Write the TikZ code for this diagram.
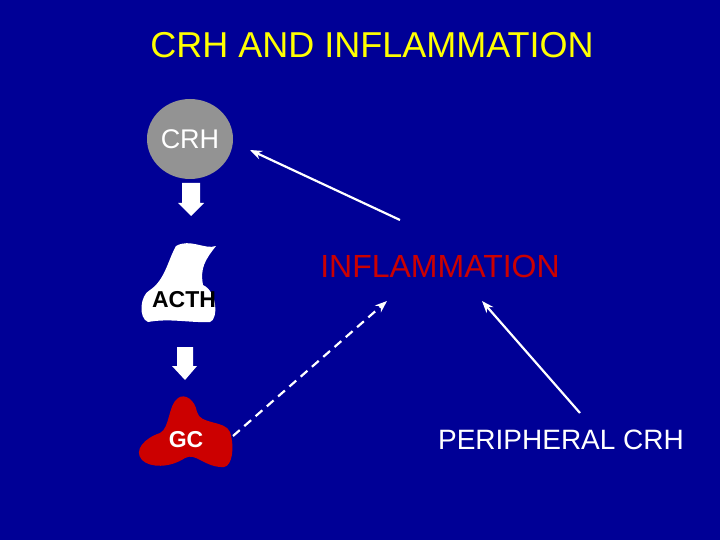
\documentclass[tikz,border=0pt]{standalone}
\usepackage{fontspec}
\setmainfont{Liberation Sans}
\usetikzlibrary{arrows.meta,shapes.geometric}
\definecolor{bg}{RGB}{0,0,150}
\definecolor{gc}{RGB}{204,0,0}
\definecolor{ttl}{RGB}{255,255,0}
\tikzset{conn/.style={white,line width=2.2pt,-{Stealth[length=12pt,width=9pt]}},
blk/.style={white,fill=white}}
\begin{document}
\begin{tikzpicture}[x=1pt,y=-1pt]
\fill[bg] (0,0) rectangle (720,540);
\useasboundingbox (0,0) rectangle (720,540);
\node[text=ttl,font=\fontsize{36}{40}\selectfont] (title) at (372,45) {CRH AND INFLAMMATION};
\node[ellipse,fill=gray!85,minimum width=86pt,minimum height=80pt,inner sep=0pt,text=white,font=\fontsize{27}{30}\selectfont] (crh) at (190,139) {CRH};
\fill[blk] (182,183) -- (200,183) -- (200,203) -- (204,203) -- (191,216) -- (178,203) -- (182,203) -- cycle;
\fill[blk] (176,246) .. controls (190,238) and (205,250) .. (216,246) .. controls (205,260) and (200,268) .. (203,285) .. controls (218,292) and (218,320) .. (210,322) .. controls (190,323) and (170,318) .. (148,322) .. controls (138,318) and (140,295) .. (150,290) .. controls (165,280) and (168,260) .. (176,246) -- cycle;
\node[font=\fontsize{23}{26}\selectfont\bfseries,text=black] (acth) at (184,300) {ACTH};
\fill[blk] (177,347) -- (193,347) -- (193,366) -- (197,366) -- (185,380) -- (172,366) -- (177,366) -- cycle;
\fill[gc] (178,398) .. controls (185,393) and (195,400) .. (197,412) .. controls (200,425) and (225,420) .. (230,432) .. controls (235,448) and (232,466) .. (224,467) .. controls (205,468) and (196,452) .. (185,458) .. controls (170,468) and (150,468) .. (142,460) .. controls (133,450) and (145,438) .. (160,433) .. controls (170,428) and (168,405) .. (178,398) -- cycle;
\node[font=\fontsize{23}{26}\selectfont\bfseries,text=white] (gc) at (186,440) {GC};
\node[text=gc,font=\fontsize{32}{36}\selectfont] (infl) at (440,266) {INFLAMMATION};
\node[text=white,font=\fontsize{28}{32}\selectfont] (per) at (561,440) {PERIPHERAL CRH};
\coordinate (a1s) at (400,220); \coordinate (a1e) at (250,150);
\coordinate (a2s) at (580,413); \coordinate (a2e) at (482,301);
\coordinate (a3s) at (233,436); \coordinate (a3e) at (387,301);
\draw[conn] (a1s) -- (a1e);
\draw[conn] (a2s) -- (a2e);
\draw[conn,dash pattern=on 9pt off 6pt] (a3s) -- (a3e);
\end{tikzpicture}
\end{document}
